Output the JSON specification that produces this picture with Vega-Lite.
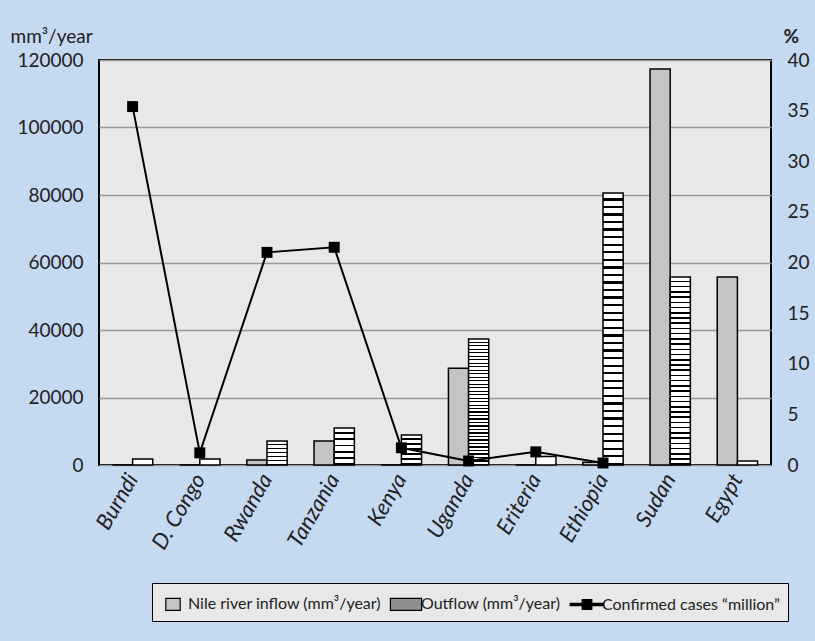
{
  "$schema": "https://vega.github.io/schema/vega-lite/v6.json",
  "width": 672,
  "height": 405,
  "autosize": {"type": "none"},
  "padding": {"left": 99, "top": 60, "right": 44, "bottom": 176},
  "background": "#c5d9f1",
  "config": {
    "view": {"fill": "#e8e8e8", "stroke": "#000000", "strokeWidth": 2},
    "font": "Lato",
    "axis": {"labelFont": "Lato", "titleFont": "Lato", "labelColor": "#222222", "titleColor": "#222222", "domain": false, "ticks": false},
    "legend": {"symbolStrokeColor": "#000000", "symbolStrokeWidth": 1.2, "symbolOpacity": 1}
  },
  "datasets": {
    "flows": [
      {"country": "Burndi", "series": "Nile river inflow (mm³/year)", "value": 0},
      {"country": "Burndi", "series": "Outflow (mm³/year)", "value": 1800},
      {"country": "D. Congo", "series": "Nile river inflow (mm³/year)", "value": 0},
      {"country": "D. Congo", "series": "Outflow (mm³/year)", "value": 1800},
      {"country": "Rwanda", "series": "Nile river inflow (mm³/year)", "value": 1500},
      {"country": "Rwanda", "series": "Outflow (mm³/year)", "value": 7100},
      {"country": "Tanzania", "series": "Nile river inflow (mm³/year)", "value": 7100},
      {"country": "Tanzania", "series": "Outflow (mm³/year)", "value": 11000},
      {"country": "Kenya", "series": "Nile river inflow (mm³/year)", "value": 0},
      {"country": "Kenya", "series": "Outflow (mm³/year)", "value": 8900},
      {"country": "Uganda", "series": "Nile river inflow (mm³/year)", "value": 28700},
      {"country": "Uganda", "series": "Outflow (mm³/year)", "value": 37300},
      {"country": "Eriteria", "series": "Nile river inflow (mm³/year)", "value": 0},
      {"country": "Eriteria", "series": "Outflow (mm³/year)", "value": 2500},
      {"country": "Ethiopia", "series": "Nile river inflow (mm³/year)", "value": 800},
      {"country": "Ethiopia", "series": "Outflow (mm³/year)", "value": 80600},
      {"country": "Sudan", "series": "Nile river inflow (mm³/year)", "value": 117300},
      {"country": "Sudan", "series": "Outflow (mm³/year)", "value": 55700},
      {"country": "Egypt", "series": "Nile river inflow (mm³/year)", "value": 55700},
      {"country": "Egypt", "series": "Outflow (mm³/year)", "value": 1200}
    ],
    "cases": [
      {"country": "Burndi", "cases": 35.4},
      {"country": "D. Congo", "cases": 1.2},
      {"country": "Rwanda", "cases": 21.0},
      {"country": "Tanzania", "cases": 21.5},
      {"country": "Kenya", "cases": 1.7},
      {"country": "Uganda", "cases": 0.4},
      {"country": "Eriteria", "cases": 1.3},
      {"country": "Ethiopia", "cases": 0.2}
    ]
  },
  "layer": [
    {
      "data": {"name": "flows"},
      "mark": {"type": "bar", "stroke": "#000000", "strokeWidth": 1.5, "strokeOpacity": 1, "fillOpacity": 1},
      "encoding": {
        "x": {
          "field": "country", "type": "nominal", "sort": null,
          "scale": {"domain": ["Burndi", "D. Congo", "Rwanda", "Tanzania", "Kenya", "Uganda", "Eriteria", "Ethiopia", "Sudan", "Egypt"], "paddingInner": 0.4, "paddingOuter": 0.2},
          "axis": {"title": null, "labelAngle": -60, "labelFontSize": 22, "labelFontStyle": "italic", "labelPadding": 10, "labelAlign": "right", "labelBaseline": "middle"}
        },
        "xOffset": {"field": "series", "type": "nominal", "sort": null},
        "y": {
          "field": "value", "type": "quantitative",
          "scale": {"domain": [0, 120000], "nice": false},
          "axis": {"values": [0, 20000, 40000, 60000, 80000, 100000, 120000], "grid": true, "gridColor": "#999999", "gridWidth": 1.5, "labelFontSize": 19, "labelPadding": 16, "format": "d", "title": "mm³/year", "titleAngle": 0, "titleAlign": "left", "titleBaseline": "alphabetic", "titleX": -89, "titleY": -18, "titleFontSize": 19, "titleFontWeight": "normal"}
        },
        "fill": {
          "condition": [
            {
              "test": "datum.series === 'Outflow (mm³/year)' && datum.value >= 30000",
              "value": {"gradient": "linear", "x1": 0, "y1": 0, "x2": 0, "y2": 1, "stops": [
                {"offset": 0, "color": "#ffffff"}, {"offset": 0.01944, "color": "#ffffff"}, {"offset": 0.01944, "color": "#000000"}, {"offset": 0.02778, "color": "#000000"},
                {"offset": 0.02778, "color": "#ffffff"}, {"offset": 0.04722, "color": "#ffffff"}, {"offset": 0.04722, "color": "#000000"}, {"offset": 0.05556, "color": "#000000"},
                {"offset": 0.05556, "color": "#ffffff"}, {"offset": 0.075, "color": "#ffffff"}, {"offset": 0.075, "color": "#000000"}, {"offset": 0.08333, "color": "#000000"},
                {"offset": 0.08333, "color": "#ffffff"}, {"offset": 0.10278, "color": "#ffffff"}, {"offset": 0.10278, "color": "#000000"}, {"offset": 0.11111, "color": "#000000"},
                {"offset": 0.11111, "color": "#ffffff"}, {"offset": 0.13056, "color": "#ffffff"}, {"offset": 0.13056, "color": "#000000"}, {"offset": 0.13889, "color": "#000000"},
                {"offset": 0.13889, "color": "#ffffff"}, {"offset": 0.15833, "color": "#ffffff"}, {"offset": 0.15833, "color": "#000000"}, {"offset": 0.16667, "color": "#000000"},
                {"offset": 0.16667, "color": "#ffffff"}, {"offset": 0.18611, "color": "#ffffff"}, {"offset": 0.18611, "color": "#000000"}, {"offset": 0.19444, "color": "#000000"},
                {"offset": 0.19444, "color": "#ffffff"}, {"offset": 0.21389, "color": "#ffffff"}, {"offset": 0.21389, "color": "#000000"}, {"offset": 0.22222, "color": "#000000"},
                {"offset": 0.22222, "color": "#ffffff"}, {"offset": 0.24167, "color": "#ffffff"}, {"offset": 0.24167, "color": "#000000"}, {"offset": 0.25, "color": "#000000"},
                {"offset": 0.25, "color": "#ffffff"}, {"offset": 0.26944, "color": "#ffffff"}, {"offset": 0.26944, "color": "#000000"}, {"offset": 0.27778, "color": "#000000"},
                {"offset": 0.27778, "color": "#ffffff"}, {"offset": 0.29722, "color": "#ffffff"}, {"offset": 0.29722, "color": "#000000"}, {"offset": 0.30556, "color": "#000000"},
                {"offset": 0.30556, "color": "#ffffff"}, {"offset": 0.325, "color": "#ffffff"}, {"offset": 0.325, "color": "#000000"}, {"offset": 0.33333, "color": "#000000"},
                {"offset": 0.33333, "color": "#ffffff"}, {"offset": 0.35278, "color": "#ffffff"}, {"offset": 0.35278, "color": "#000000"}, {"offset": 0.36111, "color": "#000000"},
                {"offset": 0.36111, "color": "#ffffff"}, {"offset": 0.38056, "color": "#ffffff"}, {"offset": 0.38056, "color": "#000000"}, {"offset": 0.38889, "color": "#000000"},
                {"offset": 0.38889, "color": "#ffffff"}, {"offset": 0.40833, "color": "#ffffff"}, {"offset": 0.40833, "color": "#000000"}, {"offset": 0.41667, "color": "#000000"},
                {"offset": 0.41667, "color": "#ffffff"}, {"offset": 0.43611, "color": "#ffffff"}, {"offset": 0.43611, "color": "#000000"}, {"offset": 0.44444, "color": "#000000"},
                {"offset": 0.44444, "color": "#ffffff"}, {"offset": 0.46389, "color": "#ffffff"}, {"offset": 0.46389, "color": "#000000"}, {"offset": 0.47222, "color": "#000000"},
                {"offset": 0.47222, "color": "#ffffff"}, {"offset": 0.49167, "color": "#ffffff"}, {"offset": 0.49167, "color": "#000000"}, {"offset": 0.5, "color": "#000000"},
                {"offset": 0.5, "color": "#ffffff"}, {"offset": 0.51944, "color": "#ffffff"}, {"offset": 0.51944, "color": "#000000"}, {"offset": 0.52778, "color": "#000000"},
                {"offset": 0.52778, "color": "#ffffff"}, {"offset": 0.54722, "color": "#ffffff"}, {"offset": 0.54722, "color": "#000000"}, {"offset": 0.55556, "color": "#000000"},
                {"offset": 0.55556, "color": "#ffffff"}, {"offset": 0.575, "color": "#ffffff"}, {"offset": 0.575, "color": "#000000"}, {"offset": 0.58333, "color": "#000000"},
                {"offset": 0.58333, "color": "#ffffff"}, {"offset": 0.60278, "color": "#ffffff"}, {"offset": 0.60278, "color": "#000000"}, {"offset": 0.61111, "color": "#000000"},
                {"offset": 0.61111, "color": "#ffffff"}, {"offset": 0.63056, "color": "#ffffff"}, {"offset": 0.63056, "color": "#000000"}, {"offset": 0.63889, "color": "#000000"},
                {"offset": 0.63889, "color": "#ffffff"}, {"offset": 0.65833, "color": "#ffffff"}, {"offset": 0.65833, "color": "#000000"}, {"offset": 0.66667, "color": "#000000"},
                {"offset": 0.66667, "color": "#ffffff"}, {"offset": 0.68611, "color": "#ffffff"}, {"offset": 0.68611, "color": "#000000"}, {"offset": 0.69444, "color": "#000000"},
                {"offset": 0.69444, "color": "#ffffff"}, {"offset": 0.71389, "color": "#ffffff"}, {"offset": 0.71389, "color": "#000000"}, {"offset": 0.72222, "color": "#000000"},
                {"offset": 0.72222, "color": "#ffffff"}, {"offset": 0.74167, "color": "#ffffff"}, {"offset": 0.74167, "color": "#000000"}, {"offset": 0.75, "color": "#000000"},
                {"offset": 0.75, "color": "#ffffff"}, {"offset": 0.76944, "color": "#ffffff"}, {"offset": 0.76944, "color": "#000000"}, {"offset": 0.77778, "color": "#000000"},
                {"offset": 0.77778, "color": "#ffffff"}, {"offset": 0.79722, "color": "#ffffff"}, {"offset": 0.79722, "color": "#000000"}, {"offset": 0.80556, "color": "#000000"},
                {"offset": 0.80556, "color": "#ffffff"}, {"offset": 0.825, "color": "#ffffff"}, {"offset": 0.825, "color": "#000000"}, {"offset": 0.83333, "color": "#000000"},
                {"offset": 0.83333, "color": "#ffffff"}, {"offset": 0.85278, "color": "#ffffff"}, {"offset": 0.85278, "color": "#000000"}, {"offset": 0.86111, "color": "#000000"},
                {"offset": 0.86111, "color": "#ffffff"}, {"offset": 0.88056, "color": "#ffffff"}, {"offset": 0.88056, "color": "#000000"}, {"offset": 0.88889, "color": "#000000"},
                {"offset": 0.88889, "color": "#ffffff"}, {"offset": 0.90833, "color": "#ffffff"}, {"offset": 0.90833, "color": "#000000"}, {"offset": 0.91667, "color": "#000000"},
                {"offset": 0.91667, "color": "#ffffff"}, {"offset": 0.93611, "color": "#ffffff"}, {"offset": 0.93611, "color": "#000000"}, {"offset": 0.94444, "color": "#000000"},
                {"offset": 0.94444, "color": "#ffffff"}, {"offset": 0.96389, "color": "#ffffff"}, {"offset": 0.96389, "color": "#000000"}, {"offset": 0.97222, "color": "#000000"},
                {"offset": 0.97222, "color": "#ffffff"}, {"offset": 0.99167, "color": "#ffffff"}, {"offset": 0.99167, "color": "#000000"}, {"offset": 1, "color": "#000000"}
              ]}
            },
            {
              "test": "datum.series === 'Outflow (mm³/year)' && datum.value >= 5000",
              "value": {"gradient": "linear", "x1": 0, "y1": 0, "x2": 0, "y2": 1, "stops": [
                {"offset": 0, "color": "#ffffff"}, {"offset": 0.11667, "color": "#ffffff"}, {"offset": 0.11667, "color": "#000000"}, {"offset": 0.16667, "color": "#000000"},
                {"offset": 0.16667, "color": "#ffffff"}, {"offset": 0.28333, "color": "#ffffff"}, {"offset": 0.28333, "color": "#000000"}, {"offset": 0.33333, "color": "#000000"},
                {"offset": 0.33333, "color": "#ffffff"}, {"offset": 0.45, "color": "#ffffff"}, {"offset": 0.45, "color": "#000000"}, {"offset": 0.5, "color": "#000000"},
                {"offset": 0.5, "color": "#ffffff"}, {"offset": 0.61667, "color": "#ffffff"}, {"offset": 0.61667, "color": "#000000"}, {"offset": 0.66667, "color": "#000000"},
                {"offset": 0.66667, "color": "#ffffff"}, {"offset": 0.78333, "color": "#ffffff"}, {"offset": 0.78333, "color": "#000000"}, {"offset": 0.83333, "color": "#000000"},
                {"offset": 0.83333, "color": "#ffffff"}, {"offset": 0.95, "color": "#ffffff"}, {"offset": 0.95, "color": "#000000"}, {"offset": 1, "color": "#000000"}
              ]}
            },
            {"test": "datum.series === 'Outflow (mm³/year)'", "value": "#ffffff"}
          ],
          "value": "#c4c4c4"
        }
      }
    },
    {
      "data": {"name": "cases"},
      "layer": [
        {
          "mark": {"type": "line", "strokeWidth": 2, "color": "#000000"},
          "encoding": {
            "x": {"field": "country", "type": "nominal", "sort": null},
            "y": {
              "field": "cases", "type": "quantitative",
              "scale": {"domain": [0, 40], "nice": false},
              "axis": {"orient": "right", "values": [0, 5, 10, 15, 20, 25, 30, 35, 40], "grid": false, "labelFontSize": 19, "labelPadding": 16, "title": "%", "titleAngle": 0, "titleAlign": "left", "titleBaseline": "alphabetic", "titleX": 12, "titleY": -18, "titleFontSize": 19, "titleFontWeight": "bold"}
            }
          }
        },
        {
          "mark": {"type": "point", "shape": "square", "filled": true, "size": 120, "opacity": 1, "color": "#000000"},
          "encoding": {
            "x": {"field": "country", "type": "nominal", "sort": null},
            "y": {"field": "cases", "type": "quantitative"}
          }
        },
        {
          "mark": {"type": "point", "filled": true, "opacity": 0},
          "encoding": {
            "x": {"field": "country", "type": "nominal", "sort": null},
            "y": {"field": "cases", "type": "quantitative"},
            "shape": {
              "datum": "Confirmed cases “million”", "type": "nominal",
              "scale": {
                "domain": ["Nile river inflow (mm³/year)", "Outflow (mm³/year)", "Confirmed cases “million”"],
                "range": ["M-0.6,-0.5H0.6V0.5H-0.6Z", "M-1.3,-0.5H1.3V0.5H-1.3Z", "M-1.4,-0.09H1.4V0.09H-1.4Z M-0.4,-0.4H0.4V0.4H-0.4Z"]
              },
              "legend": {
                "title": null, "orient": "none", "direction": "horizontal", "legendX": 53, "legendY": 523,
                "fillColor": "#e8e8e8", "strokeColor": "#000000", "padding": 8, "columnPadding": 6,
                "labelFont": "Lato", "labelFontSize": 16, "labelColor": "#222222", "labelLimit": 400, "labelOffset": 2,
                "symbolSize": 576, "symbolStrokeColor": "#000000", "symbolStrokeWidth": 1.2, "symbolOpacity": 1
              }
            },
            "fill": {
              "datum": "Confirmed cases “million”", "type": "nominal",
              "scale": {
                "domain": ["Nile river inflow (mm³/year)", "Outflow (mm³/year)", "Confirmed cases “million”"],
                "range": ["#c4c4c4", "#8f8f8f", "#000000"]
              },
              "legend": {
                "title": null, "orient": "none", "direction": "horizontal", "legendX": 53, "legendY": 523,
                "fillColor": "#e8e8e8", "strokeColor": "#000000", "padding": 8, "columnPadding": 6,
                "labelFont": "Lato", "labelFontSize": 16, "labelColor": "#222222", "labelLimit": 400, "labelOffset": 2,
                "symbolSize": 576, "symbolStrokeColor": "#000000", "symbolStrokeWidth": 1.2, "symbolOpacity": 1
              }
            },
            "stroke": {
              "datum": "Confirmed cases “million”", "type": "nominal",
              "scale": {
                "domain": ["Nile river inflow (mm³/year)", "Outflow (mm³/year)", "Confirmed cases “million”"],
                "range": ["#000000", "#000000", "#000000"]
              },
              "legend": {
                "title": null, "orient": "none", "direction": "horizontal", "legendX": 53, "legendY": 523,
                "fillColor": "#e8e8e8", "strokeColor": "#000000", "padding": 8, "columnPadding": 6,
                "labelFont": "Lato", "labelFontSize": 16, "labelColor": "#222222", "labelLimit": 400, "labelOffset": 2,
                "symbolSize": 576, "symbolStrokeColor": "#000000", "symbolStrokeWidth": 1.2, "symbolOpacity": 1
              }
            }
          }
        }
      ]
    }
  ],
  "resolve": {"scale": {"y": "independent"}}
}
